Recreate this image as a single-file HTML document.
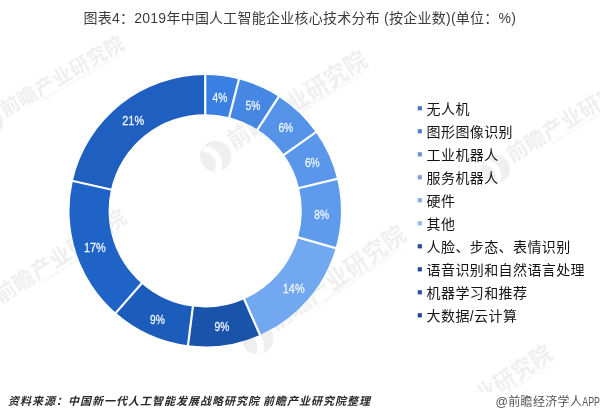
<!DOCTYPE html>
<html lang="zh"><head><meta charset="utf-8"><title>chart</title>
<style>
html,body{margin:0;padding:0;background:#fff;}
body{width:600px;height:420px;overflow:hidden;position:relative;font-family:"Liberation Sans",sans-serif;}
svg{position:absolute;left:0;top:0;display:block;}
.t{position:absolute;left:0;top:0;width:600px;height:420px;overflow:hidden;color:transparent;font-size:1px;line-height:1px;}
</style></head><body>
<div class="t">图表4：2019年中国人工智能企业核心技术分布 (按企业数)(单位：%) 4% 5% 6% 6% 8% 14% 9% 9% 17% 21% 无人机 图形图像识别 工业机器人 服务机器人 硬件 其他 人脸、步态、表情识别 语音识别和自然语言处理 机器学习和推荐 大数据 / 云计算 资料来源：中国新一代人工智能发展战略研究院 前瞻产业研究院整理 @前瞻经济学人APP</div>
<svg width="600" height="420" viewBox="0 0 600 420">
<svg x="0" y="0" width="600" height="392" viewBox="0 0 600 392" overflow="hidden"><g fill="#c4c4c4" opacity="0.28" font-family="&quot;Liberation Sans&quot;, &quot;Noto Sans CJK SC&quot;, sans-serif"><g transform="translate(9.8 105.8) rotate(-30.05)"><text x="-9.82" y="7.46" font-size="19.63" font-weight="bold" letter-spacing="0.4">前瞻产业研究院</text><g transform="translate(-26.0 4.4) rotate(30.05) scale(0.871)"><circle cx="0" cy="0" r="15.5"/><path fill="#fff" d="M-11 -10Q2 -9 5.5 2Q7 9 5 14.5L-1.5 15.3Q2.5 6 -3 0Q-7 -4.5 -13.5 -5Z"/></g><g><text x="32.06" y="12.82" font-size="4.01" textLength="88.1">FORWARD BUSINESS INFORMATION CO.,LTD</text></g></g><g transform="translate(238.2 136.0) rotate(-32.40)"><text x="-11.28" y="8.57" font-size="22.56" font-weight="bold" letter-spacing="0.46">前瞻产业研究院</text><g transform="translate(-29.9 5.1) rotate(32.40) scale(1.001)"><circle cx="0" cy="0" r="15.5"/><path fill="#fff" d="M-11 -10Q2 -9 5.5 2Q7 9 5 14.5L-1.5 15.3Q2.5 6 -3 0Q-7 -4.5 -13.5 -5Z"/></g><g><text x="36.83" y="14.73" font-size="4.61" textLength="101.3">FORWARD BUSINESS INFORMATION CO.,LTD</text></g></g><g transform="translate(516.7 150.7) rotate(-31.29)"><text x="-10.38" y="7.89" font-size="20.76" font-weight="bold" letter-spacing="0.42">前瞻产业研究院</text><g transform="translate(-27.5 4.7) rotate(31.29) scale(0.921)"><circle cx="0" cy="0" r="15.5"/><path fill="#fff" d="M-11 -10Q2 -9 5.5 2Q7 9 5 14.5L-1.5 15.3Q2.5 6 -3 0Q-7 -4.5 -13.5 -5Z"/></g><g><text x="33.89" y="13.56" font-size="4.24" textLength="93.2">FORWARD BUSINESS INFORMATION CO.,LTD</text></g></g><g transform="translate(5.0 291.7) rotate(-33.03)"><text x="-10.7" y="8.13" font-size="21.39" font-weight="bold" letter-spacing="0.44">前瞻产业研究院</text><g transform="translate(-28.4 4.8) rotate(33.03) scale(0.949)"><circle cx="0" cy="0" r="15.5"/><path fill="#fff" d="M-11 -10Q2 -9 5.5 2Q7 9 5 14.5L-1.5 15.3Q2.5 6 -3 0Q-7 -4.5 -13.5 -5Z"/></g><g><text x="34.93" y="13.97" font-size="4.36" textLength="96.05">FORWARD BUSINESS INFORMATION CO.,LTD</text></g></g><g transform="translate(279.3 317.1) rotate(-35.19)"><text x="-11.39" y="8.66" font-size="22.78" font-weight="bold" letter-spacing="0.47">前瞻产业研究院</text><g transform="translate(-30.2 5.1) rotate(35.19) scale(1.011)"><circle cx="0" cy="0" r="15.5"/><path fill="#fff" d="M-11 -10Q2 -9 5.5 2Q7 9 5 14.5L-1.5 15.3Q2.5 6 -3 0Q-7 -4.5 -13.5 -5Z"/></g><g><text x="37.2" y="14.88" font-size="4.65" textLength="102.3">FORWARD BUSINESS INFORMATION CO.,LTD</text></g></g><g transform="translate(430.6 428.0) rotate(-33.18)"><text x="-10.74" y="8.17" font-size="21.49" font-weight="bold" letter-spacing="0.44">前瞻产业研究院</text><g transform="translate(-28.5 4.8) rotate(33.18) scale(0.953)"><circle cx="0" cy="0" r="15.5"/><path fill="#fff" d="M-11 -10Q2 -9 5.5 2Q7 9 5 14.5L-1.5 15.3Q2.5 6 -3 0Q-7 -4.5 -13.5 -5Z"/></g><g><text x="35.08" y="14.03" font-size="4.38" textLength="96.5">FORWARD BUSINESS INFORMATION CO.,LTD</text></g></g></g></svg>
<path d="M205.20 75.05A135.7 135.7 0 0 1 238.95 79.31L229.22 117.18A96.6 96.6 0 0 0 205.20 114.15Z" fill="#3a80e2"/>
<path d="M238.95 79.31A135.7 135.7 0 0 1 278.71 96.69L257.53 129.55A96.6 96.6 0 0 0 229.22 117.18Z" fill="#4587e3"/>
<path d="M278.71 96.69A135.7 135.7 0 0 1 315.81 132.14L283.94 154.79A96.6 96.6 0 0 0 257.53 129.55Z" fill="#5493e8"/>
<path d="M315.81 132.14A135.7 135.7 0 0 1 337.10 178.84L299.09 188.04A96.6 96.6 0 0 0 283.94 154.79Z" fill="#5a97ea"/>
<path d="M337.10 178.84A135.7 135.7 0 0 1 335.64 248.15L298.06 237.38A96.6 96.6 0 0 0 299.09 188.04Z" fill="#5f9bec"/>
<path d="M335.64 248.15A135.7 135.7 0 0 1 259.96 334.91L244.18 299.14A96.6 96.6 0 0 0 298.06 237.38Z" fill="#72a8f0"/>
<path d="M259.96 334.91A135.7 135.7 0 0 1 187.96 345.35L192.93 306.57A96.6 96.6 0 0 0 244.18 299.14Z" fill="#1a54aa"/>
<path d="M187.96 345.35A135.7 135.7 0 0 1 115.82 312.85L141.57 283.43A96.6 96.6 0 0 0 192.93 306.57Z" fill="#1c5cba"/>
<path d="M115.82 312.85A135.7 135.7 0 0 1 72.82 180.92L110.96 189.51A96.6 96.6 0 0 0 141.57 283.43Z" fill="#1f63c6"/>
<path d="M72.82 180.92A135.7 135.7 0 0 1 205.20 75.05L205.20 114.15A96.6 96.6 0 0 0 110.96 189.51Z" fill="#1f5fbf"/>
<path d="M205.20 115.15L205.20 74.05" stroke="#fff" stroke-width="2.2" fill="none"/>
<path d="M228.97 118.15L239.20 78.34" stroke="#fff" stroke-width="2.2" fill="none"/>
<path d="M256.99 130.39L279.25 95.84" stroke="#fff" stroke-width="2.2" fill="none"/>
<path d="M283.13 155.37L316.63 131.56" stroke="#fff" stroke-width="2.2" fill="none"/>
<path d="M298.12 188.27L338.07 178.61" stroke="#fff" stroke-width="2.2" fill="none"/>
<path d="M297.10 237.10L336.60 248.43" stroke="#fff" stroke-width="2.2" fill="none"/>
<path d="M243.78 298.22L260.36 335.82" stroke="#fff" stroke-width="2.2" fill="none"/>
<path d="M193.05 305.58L187.83 346.34" stroke="#fff" stroke-width="2.2" fill="none"/>
<path d="M142.23 282.68L115.16 313.61" stroke="#fff" stroke-width="2.2" fill="none"/>
<path d="M111.94 189.73L71.84 180.70" stroke="#fff" stroke-width="2.2" fill="none"/>
<g fill="#f0f6ff" stroke="#f0f6ff" stroke-width="0.3" font-family="&quot;Liberation Sans&quot;, sans-serif" font-size="13.6">
<text x="212.6" y="102" textLength="14.8" lengthAdjust="spacingAndGlyphs">4%</text>
<text x="245.6" y="110.2" textLength="14.8" lengthAdjust="spacingAndGlyphs">5%</text>
<text x="278.4" y="132.1" textLength="14.8" lengthAdjust="spacingAndGlyphs">6%</text>
<text x="304.9" y="166.8" textLength="14.8" lengthAdjust="spacingAndGlyphs">6%</text>
<text x="314.3" y="219.4" textLength="14.8" lengthAdjust="spacingAndGlyphs">8%</text>
<text x="282.8" y="292.8" textLength="21.8" lengthAdjust="spacingAndGlyphs">14%</text>
<text x="214.6" y="331.3" textLength="14.8" lengthAdjust="spacingAndGlyphs">9%</text>
<text x="150.1" y="323.5" textLength="14.8" lengthAdjust="spacingAndGlyphs">9%</text>
<text x="83.9" y="251.5" textLength="21.8" lengthAdjust="spacingAndGlyphs">17%</text>
<text x="122.3" y="124.9" textLength="21.8" lengthAdjust="spacingAndGlyphs">21%</text>
</g>
<text x="83.5" y="23.4" font-size="14" fill="#3c3c3c" textLength="432.4" font-family="&quot;Liberation Sans&quot;, &quot;Noto Sans CJK SC&quot;, sans-serif">图表4：2019年中国人工智能企业核心技术分布 (按企业数)(单位：%)</text>
<rect x="417.7" y="106.2" width="4.2" height="4.2" fill="#4678c8"/>
<text x="426.6" y="113.6" font-size="14" fill="#141414" letter-spacing="0.4" font-family="&quot;Liberation Sans&quot;, &quot;Noto Sans CJK SC&quot;, sans-serif">无人机</text>
<rect x="417.7" y="129.2" width="4.2" height="4.2" fill="#5580c8"/>
<text x="426.6" y="136.6" font-size="14" fill="#141414" letter-spacing="0.4" font-family="&quot;Liberation Sans&quot;, &quot;Noto Sans CJK SC&quot;, sans-serif">图形图像识别</text>
<rect x="417.7" y="152.2" width="4.2" height="4.2" fill="#6e94d2"/>
<text x="426.6" y="159.6" font-size="14" fill="#141414" letter-spacing="0.4" font-family="&quot;Liberation Sans&quot;, &quot;Noto Sans CJK SC&quot;, sans-serif">工业机器人</text>
<rect x="417.7" y="175.2" width="4.2" height="4.2" fill="#7a9fdc"/>
<text x="426.6" y="182.6" font-size="14" fill="#141414" letter-spacing="0.4" font-family="&quot;Liberation Sans&quot;, &quot;Noto Sans CJK SC&quot;, sans-serif">服务机器人</text>
<rect x="417.7" y="198.2" width="4.2" height="4.2" fill="#86abe4"/>
<text x="426.6" y="205.6" font-size="14" fill="#141414" letter-spacing="0.4" font-family="&quot;Liberation Sans&quot;, &quot;Noto Sans CJK SC&quot;, sans-serif">硬件</text>
<rect x="417.7" y="221.2" width="4.2" height="4.2" fill="#96b8ec"/>
<text x="426.6" y="228.6" font-size="14" fill="#141414" letter-spacing="0.4" font-family="&quot;Liberation Sans&quot;, &quot;Noto Sans CJK SC&quot;, sans-serif">其他</text>
<rect x="417.7" y="244.2" width="4.2" height="4.2" fill="#27499a"/>
<text x="426.6" y="251.6" font-size="14" fill="#141414" letter-spacing="0.4" font-family="&quot;Liberation Sans&quot;, &quot;Noto Sans CJK SC&quot;, sans-serif">人脸、步态、表情识别</text>
<rect x="417.7" y="267.2" width="4.2" height="4.2" fill="#27499a"/>
<text x="426.6" y="274.6" font-size="14" fill="#141414" letter-spacing="0.4" font-family="&quot;Liberation Sans&quot;, &quot;Noto Sans CJK SC&quot;, sans-serif">语音识别和自然语言处理</text>
<rect x="417.7" y="290.2" width="4.2" height="4.2" fill="#2854a8"/>
<text x="426.6" y="297.6" font-size="14" fill="#141414" letter-spacing="0.4" font-family="&quot;Liberation Sans&quot;, &quot;Noto Sans CJK SC&quot;, sans-serif">机器学习和推荐</text>
<rect x="417.7" y="313.2" width="4.2" height="4.2" fill="#26458e"/>
<text x="426.6" y="320.6" font-size="14" fill="#141414" letter-spacing="0.4" font-family="&quot;Liberation Sans&quot;, &quot;Noto Sans CJK SC&quot;, sans-serif">大数据/云计算</text>
<text y="405.4" font-size="11" fill="#2a2a2a" font-weight="bold" font-style="italic" letter-spacing="1" font-family="&quot;Liberation Sans&quot;, &quot;Noto Sans CJK SC&quot;, sans-serif"><tspan x="8.1">资料来源：中国新一代人工智能发展战略研究院</tspan><tspan x="263.1">前瞻产业研究院整理</tspan></text>
<text x="495.4" y="405.6" font-size="12.2" fill="#555" font-family="&quot;Liberation Sans&quot;, sans-serif">@</text>
<text x="508.2" y="405.8" font-size="12" fill="#555" letter-spacing="0.35" font-family="&quot;Liberation Sans&quot;, &quot;Noto Sans CJK SC&quot;, sans-serif">前瞻经济学人</text>
<text x="582.3" y="405.6" font-size="12.2" fill="#555" textLength="17.6" lengthAdjust="spacingAndGlyphs" font-family="&quot;Liberation Sans&quot;, sans-serif">APP</text>
</svg>
</body></html>
